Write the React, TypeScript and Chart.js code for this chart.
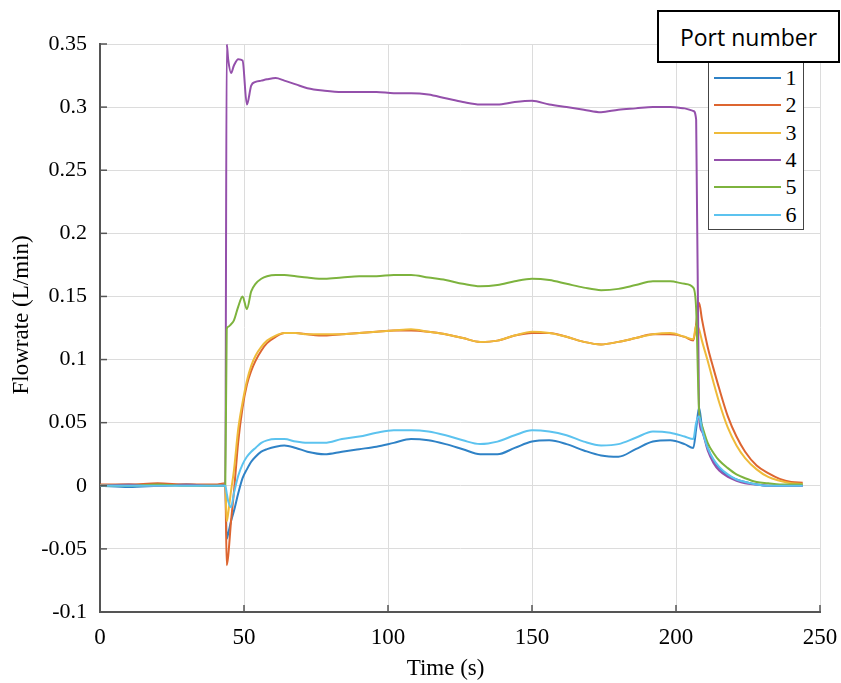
import React, { useEffect, useRef } from 'react';
import { Chart, registerables } from 'chart.js';

Chart.register(...registerables);

// Time axis (s)
const time = [
  0, 10, 20, 30, 40, 43.5, 44, 44.5, 45.5, 46.5,
  48, 49.5, 51, 52.5, 54, 56, 58, 61, 64, 68,
  72, 78, 84, 90, 96, 102, 108, 114, 120, 126,
  132, 138, 144, 150, 156, 162, 168, 174, 180, 186,
  192, 198, 203, 206, 207, 208, 209, 211, 213, 215,
  218, 221, 224, 228, 232, 236, 240, 244,
];

// Flowrate (L/min) per port
const port1 = [
  0, -0.001, 0, 0.001, 0, 0, -0.042, -0.038, -0.028, -0.02,
  -0.006, 0.006, 0.013, 0.019, 0.023, 0.027, 0.029, 0.031, 0.032, 0.03,
  0.027, 0.025, 0.027, 0.029, 0.031, 0.034, 0.037, 0.036, 0.033, 0.029,
  0.025, 0.025, 0.03, 0.035, 0.036, 0.033, 0.028, 0.024, 0.023, 0.029,
  0.035, 0.036, 0.033, 0.03, 0.045, 0.062, 0.047, 0.03, 0.02, 0.014,
  0.008, 0.005, 0.003, 0.001, 0, 0, 0, 0,
];
const port2 = [
  0.001, 0.001, 0.002, 0.001, 0.001, 0.002, -0.063, -0.056, -0.028, -0.005,
  0.035, 0.062, 0.08, 0.091, 0.099, 0.107, 0.113, 0.118, 0.121, 0.121,
  0.12, 0.119, 0.12, 0.121, 0.122, 0.123, 0.123, 0.122, 0.12, 0.117,
  0.114, 0.115, 0.119, 0.121, 0.121, 0.118, 0.114, 0.112, 0.114, 0.117,
  0.12, 0.12, 0.118, 0.115, 0.128, 0.145, 0.132, 0.11, 0.093, 0.077,
  0.055, 0.039, 0.027, 0.016, 0.01, 0.0055, 0.003, 0.0024,
];
const port3 = [
  0, 0.001, 0, 0.001, 0, 0.001, -0.028, -0.022, -0.004, 0.012,
  0.045, 0.066, 0.083, 0.095, 0.103, 0.11, 0.115, 0.119, 0.121, 0.121,
  0.12, 0.12, 0.12, 0.121, 0.122, 0.123, 0.124, 0.122, 0.12, 0.117,
  0.114, 0.115, 0.119, 0.122, 0.121, 0.118, 0.114, 0.112, 0.114, 0.117,
  0.12, 0.121, 0.118, 0.116, 0.127, 0.124, 0.115, 0.099, 0.082, 0.066,
  0.046, 0.032, 0.022, 0.013, 0.007, 0.004, 0.002, 0.0015,
];
const port4 = [
  0, 0.001, 0, 0.001, 0, 0.001, 0.35, 0.338, 0.327, 0.333,
  0.338, 0.337, 0.302, 0.317, 0.32, 0.321, 0.322, 0.323, 0.321, 0.318,
  0.315, 0.313, 0.312, 0.312, 0.312, 0.311, 0.311, 0.31, 0.307, 0.304,
  0.302, 0.302, 0.304, 0.305, 0.302, 0.3, 0.298, 0.296, 0.298, 0.299,
  0.3, 0.3, 0.299, 0.297, 0.29, 0.055, 0.043, 0.028, 0.018, 0.012,
  0.007, 0.004, 0.002, 0.001, 0, 0, 0, 0,
];
const port5 = [
  0, 0, 0.001, 0, 0, 0, 0.124, 0.126, 0.128, 0.131,
  0.142, 0.15, 0.14, 0.154, 0.16, 0.164, 0.166, 0.167, 0.167, 0.166,
  0.165, 0.164, 0.165, 0.166, 0.166, 0.167, 0.167, 0.165, 0.163, 0.16,
  0.158, 0.159, 0.162, 0.164, 0.163, 0.16, 0.157, 0.155, 0.156, 0.159,
  0.162, 0.162, 0.16, 0.157, 0.14, 0.06, 0.048, 0.034, 0.026, 0.02,
  0.014, 0.009, 0.006, 0.003, 0.002, 0.001, 0.001, 0.001,
];
const port6 = [
  0, 0, 0, 0, 0, 0, -0.006, -0.012, -0.017, -0.006,
  0.008, 0.017, 0.023, 0.027, 0.03, 0.034, 0.036, 0.037, 0.037, 0.035,
  0.034, 0.034, 0.037, 0.039, 0.042, 0.044, 0.044, 0.043, 0.04, 0.036,
  0.033, 0.035, 0.04, 0.044, 0.043, 0.04, 0.035, 0.032, 0.033, 0.038,
  0.043, 0.042, 0.039, 0.037, 0.05, 0.055, 0.045, 0.03, 0.021, 0.015,
  0.009, 0.005, 0.003, 0.001, 0, 0, 0, 0,
];

const portLabels = ['1', '2', '3', '4', '5', '6'];
const legendTitle = 'Port number';
const xTitle = 'Time (s)';
const yTitle = 'Flowrate (L/min)';

const colors = ['#2f82c6', '#dd6530', '#efbb3a', '#9450ab', '#7db33e', '#5cc3ef'];

const serif = '"Liberation Serif", "Times New Roman", serif';

const innerTicks = {
  id: 'innerTicks',
  afterDraw(chart: any) {
    const { ctx, chartArea, scales } = chart;
    const x = scales.x;
    const y = scales.y;
    ctx.save();
    ctx.strokeStyle = '#555';
    ctx.lineWidth = 1.5;
    x.ticks.forEach((t: any) => {
      const px = x.getPixelForValue(t.value);
      ctx.beginPath();
      ctx.moveTo(px, chartArea.bottom);
      ctx.lineTo(px, chartArea.bottom - 7);
      ctx.stroke();
    });
    y.ticks.forEach((t: any) => {
      const py = y.getPixelForValue(t.value);
      ctx.beginPath();
      ctx.moveTo(chartArea.left, py);
      ctx.lineTo(chartArea.left + 7, py);
      ctx.stroke();
    });
    // axis titles
    ctx.fillStyle = '#000';
    ctx.textAlign = 'center';
    ctx.textBaseline = 'middle';
    ctx.font = '23px ' + serif;
    ctx.fillText(xTitle, chartArea.left + chartArea.width * 0.48, 669);
    ctx.translate(22, chartArea.top + chartArea.height * 0.477);
    ctx.rotate(-Math.PI / 2);
    ctx.font = '23px ' + serif;
    ctx.fillText(yTitle, 0, 0);
    ctx.restore();
  },
};

export default function App() {
  const ref = useRef<HTMLCanvasElement>(null);

  useEffect(() => {
    const series = [port1, port2, port3, port4, port5, port6];
    const chart = new Chart(ref.current as HTMLCanvasElement, {
      type: 'line',
      data: {
        datasets: series.map((s, i) => ({
          label: portLabels[i],
          data: time.map((t, j) => ({ x: t, y: s[j] })),
          borderColor: colors[i],
          backgroundColor: colors[i],
          borderWidth: 2,
          pointRadius: 0,
          fill: false,
          cubicInterpolationMode: 'monotone' as const,
          order: series.length - 1 - i,
        })),
      },
      options: {
        responsive: false,
        animation: false,
        devicePixelRatio: 1,
        layout: { padding: { left: 0, right: 21, top: 44, bottom: 0 } },
        plugins: { legend: { display: false }, tooltip: { enabled: false } },
        scales: {
          x: {
            type: 'linear',
            min: 0,
            max: 250,
            afterFit: (s: any) => {
              s.height = 71;
              s.paddingLeft = 0;
              s.paddingRight = 0;
            },
            ticks: {
              stepSize: 50,
              maxRotation: 0,
              color: '#000',
              padding: 12,
              font: { family: serif, size: 23 },
            },
            grid: { color: '#dcdcdc', lineWidth: 1, drawTicks: false },
            border: { color: '#555', width: 2 },
            title: { display: false },
          },
          y: {
            type: 'linear',
            min: -0.1,
            max: 0.35,
            afterFit: (s: any) => {
              s.width = 100;
              s.paddingTop = 0;
              s.paddingBottom = 0;
            },
            ticks: {
              stepSize: 0.05,
              color: '#000',
              padding: 13,
              font: { family: serif, size: 22 },
              callback: (v: any) => String(Math.round(Number(v) * 100) / 100),
            },
            grid: { color: '#dcdcdc', lineWidth: 1, drawTicks: false },
            border: { color: '#555', width: 2 },
            title: { display: false },
          },
        },
      },
      plugins: [innerTicks],
    });
    return () => chart.destroy();
  }, []);

  return (
    <div style={{ position: 'absolute', left: 0, top: 0, width: 841, height: 683, background: '#fff' }}>
      <canvas ref={ref} width={841} height={683} style={{ display: 'block', width: 841, height: 683 }} />
      <div
        style={{
          position: 'absolute',
          left: 708,
          top: 62,
          width: 96,
          height: 168,
          boxSizing: 'border-box',
          border: '1.5px solid #444',
          background: '#fff',
        }}
      >
        {portLabels.map((lab, i) => (
          <div
            key={lab}
            style={{
              position: 'absolute',
              left: 0,
              top: 2 + 27.3 * i,
              height: 26,
              display: 'flex',
              alignItems: 'center',
            }}
          >
            <span style={{ display: 'inline-block', marginLeft: 4.5, width: 67, height: 2, background: colors[i] }} />
            <span style={{ marginLeft: 5, fontFamily: serif, fontSize: 22, lineHeight: '26px', color: '#000' }}>{lab}</span>
          </div>
        ))}
      </div>
      <div
        style={{
          position: 'absolute',
          left: 657,
          top: 10,
          width: 183,
          height: 53,
          boxSizing: 'border-box',
          border: '2px solid #000',
          background: '#fff',
          display: 'flex',
          alignItems: 'center',
          justifyContent: 'center',
          fontFamily: '"Open Sans", "Noto Sans", sans-serif',
          fontSize: 23,
          color: '#000',
        }}
      >
        {legendTitle}
      </div>
    </div>
  );
}
